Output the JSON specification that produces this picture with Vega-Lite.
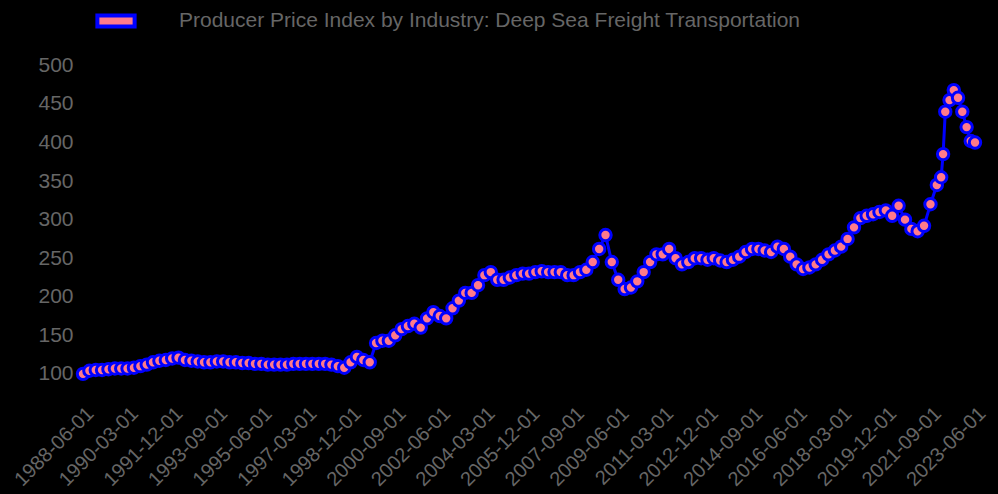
{
  "$schema": "https://vega.github.io/schema/vega-lite/v6.json",
  "width": 998,
  "height": 494,
  "autosize": {"type": "fit", "contains": "padding"},
  "padding": {"left": 10, "right": 8, "top": 50, "bottom": 4},
  "background": "black",
  "config": {"font": "Liberation Sans", "view": {"stroke": null}},
  "data": {"values": [
    {"date": "1988-06-01", "v": 100}, {"date": "1988-09-01", "v": 104}, {"date": "1988-12-01", "v": 105},
    {"date": "1989-03-01", "v": 105}, {"date": "1989-06-01", "v": 106}, {"date": "1989-09-01", "v": 107}, {"date": "1989-12-01", "v": 107},
    {"date": "1990-03-01", "v": 107}, {"date": "1990-06-01", "v": 108}, {"date": "1990-09-01", "v": 110}, {"date": "1990-12-01", "v": 112},
    {"date": "1991-03-01", "v": 115}, {"date": "1991-06-01", "v": 117}, {"date": "1991-09-01", "v": 118}, {"date": "1991-12-01", "v": 120},
    {"date": "1992-03-01", "v": 121}, {"date": "1992-06-01", "v": 118}, {"date": "1992-09-01", "v": 117}, {"date": "1992-12-01", "v": 116},
    {"date": "1993-03-01", "v": 115}, {"date": "1993-06-01", "v": 115}, {"date": "1993-09-01", "v": 116}, {"date": "1993-12-01", "v": 116},
    {"date": "1994-03-01", "v": 115}, {"date": "1994-06-01", "v": 115}, {"date": "1994-09-01", "v": 114}, {"date": "1994-12-01", "v": 114},
    {"date": "1995-03-01", "v": 113}, {"date": "1995-06-01", "v": 113}, {"date": "1995-09-01", "v": 112}, {"date": "1995-12-01", "v": 112},
    {"date": "1996-03-01", "v": 112}, {"date": "1996-06-01", "v": 112}, {"date": "1996-09-01", "v": 113}, {"date": "1996-12-01", "v": 113},
    {"date": "1997-03-01", "v": 113}, {"date": "1997-06-01", "v": 113}, {"date": "1997-09-01", "v": 113}, {"date": "1997-12-01", "v": 113},
    {"date": "1998-03-01", "v": 112}, {"date": "1998-06-01", "v": 110}, {"date": "1998-09-01", "v": 108}, {"date": "1998-12-01", "v": 115},
    {"date": "1999-03-01", "v": 122}, {"date": "1999-06-01", "v": 118}, {"date": "1999-09-01", "v": 115}, {"date": "1999-12-01", "v": 140},
    {"date": "2000-03-01", "v": 143}, {"date": "2000-06-01", "v": 143}, {"date": "2000-09-01", "v": 150}, {"date": "2000-12-01", "v": 158},
    {"date": "2001-03-01", "v": 162}, {"date": "2001-06-01", "v": 165}, {"date": "2001-09-01", "v": 160}, {"date": "2001-12-01", "v": 172},
    {"date": "2002-03-01", "v": 180}, {"date": "2002-06-01", "v": 175}, {"date": "2002-09-01", "v": 172}, {"date": "2002-12-01", "v": 185},
    {"date": "2003-03-01", "v": 195}, {"date": "2003-06-01", "v": 205}, {"date": "2003-09-01", "v": 205}, {"date": "2003-12-01", "v": 215},
    {"date": "2004-03-01", "v": 228}, {"date": "2004-06-01", "v": 232}, {"date": "2004-09-01", "v": 222}, {"date": "2004-12-01", "v": 222},
    {"date": "2005-03-01", "v": 225}, {"date": "2005-06-01", "v": 228}, {"date": "2005-09-01", "v": 230}, {"date": "2005-12-01", "v": 230},
    {"date": "2006-03-01", "v": 232}, {"date": "2006-06-01", "v": 233}, {"date": "2006-09-01", "v": 232}, {"date": "2006-12-01", "v": 232},
    {"date": "2007-03-01", "v": 232}, {"date": "2007-06-01", "v": 228}, {"date": "2007-09-01", "v": 228}, {"date": "2007-12-01", "v": 232},
    {"date": "2008-03-01", "v": 235}, {"date": "2008-06-01", "v": 245}, {"date": "2008-09-01", "v": 262}, {"date": "2008-12-01", "v": 280},
    {"date": "2009-03-01", "v": 245}, {"date": "2009-06-01", "v": 222}, {"date": "2009-09-01", "v": 210}, {"date": "2009-12-01", "v": 212},
    {"date": "2010-03-01", "v": 220}, {"date": "2010-06-01", "v": 232}, {"date": "2010-09-01", "v": 245}, {"date": "2010-12-01", "v": 255},
    {"date": "2011-03-01", "v": 255}, {"date": "2011-06-01", "v": 262}, {"date": "2011-09-01", "v": 250}, {"date": "2011-12-01", "v": 242},
    {"date": "2012-03-01", "v": 245}, {"date": "2012-06-01", "v": 250}, {"date": "2012-09-01", "v": 250}, {"date": "2012-12-01", "v": 248},
    {"date": "2013-03-01", "v": 250}, {"date": "2013-06-01", "v": 247}, {"date": "2013-09-01", "v": 245}, {"date": "2013-12-01", "v": 248},
    {"date": "2014-03-01", "v": 252}, {"date": "2014-06-01", "v": 258}, {"date": "2014-09-01", "v": 262}, {"date": "2014-12-01", "v": 262},
    {"date": "2015-03-01", "v": 260}, {"date": "2015-06-01", "v": 258}, {"date": "2015-09-01", "v": 265}, {"date": "2015-12-01", "v": 262},
    {"date": "2016-03-01", "v": 252}, {"date": "2016-06-01", "v": 242}, {"date": "2016-09-01", "v": 236}, {"date": "2016-12-01", "v": 238},
    {"date": "2017-03-01", "v": 242}, {"date": "2017-06-01", "v": 248}, {"date": "2017-09-01", "v": 255}, {"date": "2017-12-01", "v": 260},
    {"date": "2018-03-01", "v": 265}, {"date": "2018-06-01", "v": 275}, {"date": "2018-09-01", "v": 290}, {"date": "2018-12-01", "v": 302},
    {"date": "2019-03-01", "v": 305}, {"date": "2019-06-01", "v": 307}, {"date": "2019-09-01", "v": 310}, {"date": "2019-12-01", "v": 312},
    {"date": "2020-03-01", "v": 305}, {"date": "2020-06-01", "v": 318}, {"date": "2020-09-01", "v": 300}, {"date": "2020-12-01", "v": 288},
    {"date": "2021-03-01", "v": 285}, {"date": "2021-06-01", "v": 292}, {"date": "2021-09-01", "v": 320}, {"date": "2021-12-01", "v": 345},
    {"date": "2022-02-01", "v": 355}, {"date": "2022-03-01", "v": 385}, {"date": "2022-04-01", "v": 440}, {"date": "2022-06-01", "v": 455},
    {"date": "2022-08-01", "v": 468}, {"date": "2022-10-01", "v": 458}, {"date": "2022-12-01", "v": 440}, {"date": "2023-02-01", "v": 420},
    {"date": "2023-04-01", "v": 402}, {"date": "2023-06-01", "v": 400}
  ]},
  "transform": [{"calculate": "'Producer Price Index by Industry: Deep Sea Freight Transportation'", "as": "series"}],
  "encoding": {
    "x": {
      "field": "date", "type": "temporal", "title": null,
      "scale": {"domain": ["1988-06-01", "2023-06-01"]},
      "axis": {
        "values": ["1988-06-01", "1990-03-01", "1991-12-01", "1993-09-01", "1995-06-01", "1997-03-01", "1998-12-01", "2000-09-01", "2002-06-01", "2004-03-01", "2005-12-01", "2007-09-01", "2009-06-01", "2011-03-01", "2012-12-01", "2014-09-01", "2016-06-01", "2018-03-01", "2019-12-01", "2021-09-01", "2023-06-01"],
        "format": "%Y-%m-%d", "labelAngle": -45, "labelAlign": "right", "labelFontSize": 20,
        "labelColor": "#666666", "grid": false, "domain": false, "ticks": false, "labelPadding": 6,
        "labelOverlap": false, "labelBound": false
      }
    },
    "y": {
      "field": "v", "type": "quantitative", "title": null,
      "scale": {"domain": [70, 520], "nice": false},
      "axis": {"values": [100, 150, 200, 250, 300, 350, 400, 450, 500], "labelFontSize": 21, "labelColor": "#666666",
        "grid": false, "domain": false, "ticks": false, "labelPadding": 10}
    }
  },
  "layer": [
    {"mark": {"type": "line", "color": "blue", "strokeWidth": 3}},
    {
      "mark": {"type": "point", "filled": true, "size": 130, "stroke": "blue", "strokeWidth": 3, "opacity": 1},
      "encoding": {
        "color": {"field": "series", "type": "nominal", "scale": {"range": ["#ff7a8a"]},
          "legend": {"orient": "none", "legendX": 20, "legendY": -42, "title": null, "labelFontSize": 21, "labelColor": "#666666",
            "symbolType": "M-1.7,-0.5L1.7,-0.5L1.7,0.5L-1.7,0.5Z", "symbolSize": 480, "labelOffset": 50,
            "symbolStrokeColor": "blue", "symbolStrokeWidth": 4, "symbolOpacity": 1, "labelLimit": 800}}
      }
    }
  ]
}
